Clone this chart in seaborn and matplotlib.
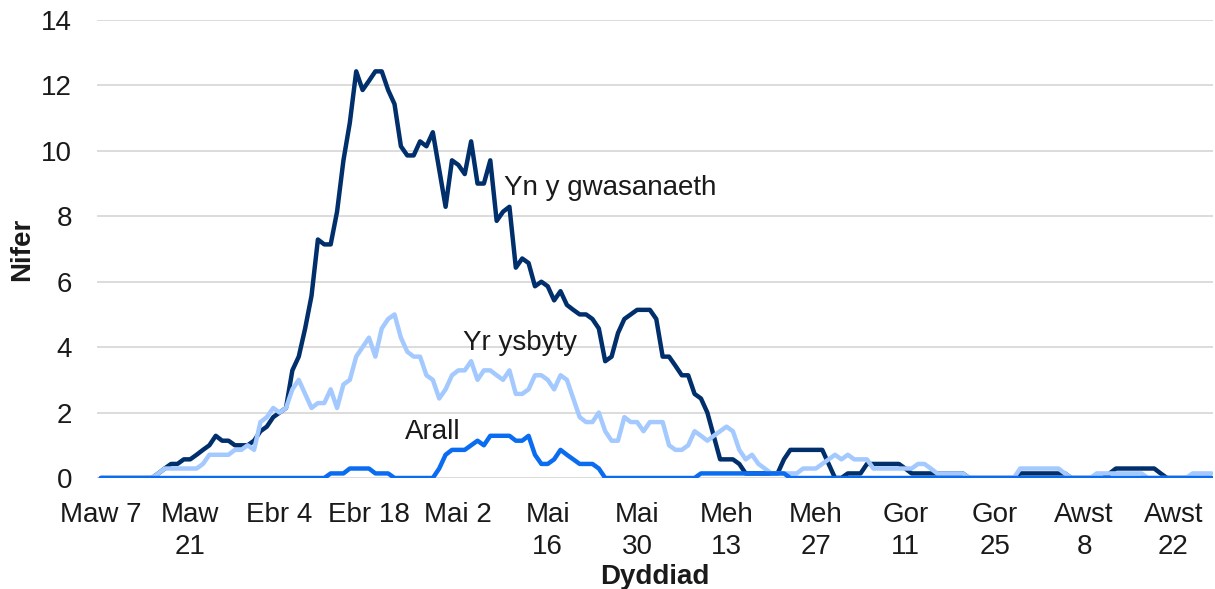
import pandas as pd
import seaborn as sns
import matplotlib.pyplot as plt

# cyfartaledd treigl dyddiol, o 7 Mawrth
start_date = "2020-03-07"

gwasanaeth = [
    0, 0, 0, 0, 0, 0, 0, 0, 0, 0.14,
    0.29, 0.43, 0.43, 0.57, 0.57, 0.71, 0.86, 1.0, 1.29, 1.14,
    1.14, 1.0, 1.0, 1.0, 1.14, 1.43, 1.57, 1.86, 2.0, 2.14,
    3.29, 3.71, 4.57, 5.57, 7.29, 7.14, 7.14, 8.14, 9.71, 10.86,
    12.43, 11.86, 12.14, 12.43, 12.43, 11.86, 11.43, 10.14, 9.86, 9.86,
    10.29, 10.14, 10.57, 9.43, 8.29, 9.71, 9.57, 9.29, 10.29, 9.0,
    9.0, 9.71, 7.86, 8.14, 8.29, 6.43, 6.71, 6.57, 5.86, 6.0,
    5.86, 5.43, 5.71, 5.29, 5.14, 5.0, 5.0, 4.86, 4.57, 3.57,
    3.71, 4.43, 4.86, 5.0, 5.14, 5.14, 5.14, 4.86, 3.71, 3.71,
    3.43, 3.14, 3.14, 2.57, 2.43, 2.0, 1.29, 0.57, 0.57, 0.57,
    0.43, 0.14, 0.14, 0.14, 0.14, 0.14, 0.14, 0.57, 0.86, 0.86,
    0.86, 0.86, 0.86, 0.86, 0.43, 0, 0, 0.14, 0.14, 0.14,
    0.43, 0.43, 0.43, 0.43, 0.43, 0.43, 0.29, 0.14, 0.14, 0.14,
    0.14, 0.14, 0.14, 0.14, 0.14, 0.14, 0, 0, 0, 0,
    0, 0, 0, 0, 0.14, 0.14, 0.14, 0.14, 0.14, 0.14,
    0.14, 0.14, 0, 0, 0, 0, 0, 0, 0.14, 0.29,
    0.29, 0.29, 0.29, 0.29, 0.29, 0.29, 0.14, 0, 0, 0,
    0, 0, 0, 0, 0,
]

ysbyty = [
    0, 0, 0, 0, 0, 0, 0, 0, 0, 0.14,
    0.29, 0.29, 0.29, 0.29, 0.29, 0.29, 0.43, 0.71, 0.71, 0.71,
    0.71, 0.86, 0.86, 1.0, 0.86, 1.71, 1.86, 2.14, 2.0, 2.14,
    2.71, 3.0, 2.57, 2.14, 2.29, 2.29, 2.71, 2.14, 2.86, 3.0,
    3.71, 4.0, 4.29, 3.71, 4.57, 4.86, 5.0, 4.29, 3.86, 3.71,
    3.71, 3.14, 3.0, 2.43, 2.71, 3.14, 3.29, 3.29, 3.57, 3.0,
    3.29, 3.29, 3.14, 3.0, 3.29, 2.57, 2.57, 2.71, 3.14, 3.14,
    3.0, 2.71, 3.14, 3.0, 2.43, 1.86, 1.71, 1.71, 2.0, 1.43,
    1.14, 1.14, 1.86, 1.71, 1.71, 1.43, 1.71, 1.71, 1.71, 1.0,
    0.86, 0.86, 1.0, 1.43, 1.29, 1.14, 1.29, 1.43, 1.57, 1.43,
    0.86, 0.57, 0.71, 0.43, 0.29, 0.14, 0.14, 0.14, 0.14, 0.14,
    0.29, 0.29, 0.29, 0.43, 0.57, 0.71, 0.57, 0.71, 0.57, 0.57,
    0.57, 0.29, 0.29, 0.29, 0.29, 0.29, 0.29, 0.29, 0.43, 0.43,
    0.29, 0.14, 0.14, 0.14, 0.14, 0.14, 0, 0, 0, 0,
    0, 0, 0, 0, 0.29, 0.29, 0.29, 0.29, 0.29, 0.29,
    0.29, 0.14, 0, 0, 0, 0, 0.14, 0.14, 0.14, 0.14,
    0.14, 0.14, 0.14, 0.14, 0, 0, 0, 0, 0, 0,
    0, 0.14, 0.14, 0.14, 0.14,
]

arall = [
    0, 0, 0, 0, 0, 0, 0, 0, 0, 0,
    0, 0, 0, 0, 0, 0, 0, 0, 0, 0,
    0, 0, 0, 0, 0, 0, 0, 0, 0, 0,
    0, 0, 0, 0, 0, 0, 0.14, 0.14, 0.14, 0.29,
    0.29, 0.29, 0.29, 0.14, 0.14, 0.14, 0, 0, 0, 0,
    0, 0, 0, 0.29, 0.71, 0.86, 0.86, 0.86, 1.0, 1.14,
    1.0, 1.29, 1.29, 1.29, 1.29, 1.14, 1.14, 1.29, 0.71, 0.43,
    0.43, 0.57, 0.86, 0.71, 0.57, 0.43, 0.43, 0.43, 0.29, 0,
    0, 0, 0, 0, 0, 0, 0, 0, 0, 0,
    0, 0, 0, 0, 0.14, 0.14, 0.14, 0.14, 0.14, 0.14,
    0.14, 0.14, 0.14, 0.14, 0.14, 0.14, 0.14, 0.14, 0, 0,
    0, 0, 0, 0, 0, 0, 0, 0, 0, 0,
    0, 0, 0, 0, 0, 0, 0, 0, 0, 0,
    0, 0, 0, 0, 0, 0, 0, 0, 0, 0,
    0, 0, 0, 0, 0, 0, 0, 0, 0, 0,
    0, 0, 0, 0, 0, 0, 0, 0, 0, 0,
    0, 0, 0, 0, 0, 0, 0, 0, 0, 0,
    0, 0, 0, 0, 0,
]

series_names = ["Yn y gwasanaeth", "Yr ysbyty", "Arall"]
series_colors = ["#002f6c", "#a3c9ff", "#0a6cf0"]
tick_labels = ["Maw 7", "Maw\n21", "Ebr 4", "Ebr 18", "Mai 2", "Mai\n16", "Mai\n30",
               "Meh\n13", "Meh\n27", "Gor\n11", "Gor\n25", "Awst\n8", "Awst\n22"]
y_ticks = [0, 2, 4, 6, 8, 10, 12, 14]

dates = pd.date_range(start_date, periods=len(gwasanaeth), freq="D")
df = pd.DataFrame({"Dyddiad": dates,
                   series_names[0]: gwasanaeth,
                   series_names[1]: ysbyty,
                   series_names[2]: arall})
df = df.melt(id_vars="Dyddiad", var_name="Lleoliad", value_name="Nifer")

sns.set_theme(style="white")
plt.rcParams["font.family"] = ["Liberation Sans", "DejaVu Sans"]

W, H = 1215, 589
fig = plt.figure(figsize=(W / 100, H / 100), dpi=100)
ax = fig.add_axes([97 / W, 1 - 478 / H, (1213 - 97) / W, (478 - 20) / H])

sns.lineplot(data=df, x="Dyddiad", y="Nifer", hue="Lleoliad", hue_order=series_names,
             palette=series_colors, linewidth=3.2, legend=False, ax=ax)
for ln in ax.lines:
    ln.set_solid_joinstyle("round")
    ln.set_solid_capstyle("round")

ax.set_ylim(0, 14)
ax.set_yticks(y_ticks)
ax.set_xlim(dates[0] - pd.Timedelta(days=0.6), dates[0] + pd.Timedelta(days=174.2))
ax.set_xticks(dates[::14])
ax.set_xticklabels(tick_labels, linespacing=1.3)

ax.grid(axis="y", color="#d9d9d9", linewidth=1.3)
ax.grid(axis="x", visible=False)
ax.set_axisbelow(True)
for s in ax.spines.values():
    s.set_visible(False)
ax.tick_params(axis="both", length=0, labelsize=20, colors="#1a1a1a")
ax.tick_params(axis="y", pad=18)
ax.tick_params(axis="x", pad=17)

ax.set_xlabel("Dyddiad", fontsize=20, fontweight="bold", color="#1a1a1a")
ax.xaxis.set_label_coords(0.5, -0.217)
ax.xaxis.label.set_va("center")
ax.set_ylabel("Nifer", fontsize=20, fontweight="bold", color="#1a1a1a", va="center")
ax.yaxis.set_label_coords(-0.067, 0.5)

day0 = dates[0]
ax.text(day0 + pd.Timedelta(days=63.2), 8.87, "Yn y gwasanaeth", fontsize=20, va="center", color="#1a1a1a")
ax.text(day0 + pd.Timedelta(days=56.7), 4.13, "Yr ysbyty", fontsize=20, va="center", color="#1a1a1a")
ax.text(day0 + pd.Timedelta(days=47.6), 1.4, "Arall", fontsize=20, va="center", color="#1a1a1a")

fig.savefig("out.png", dpi=100)
